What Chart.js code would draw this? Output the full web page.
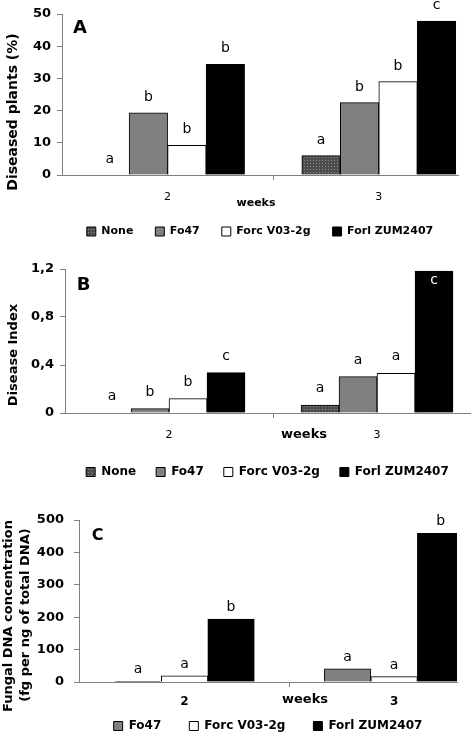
<!DOCTYPE html>
<html>
<head>
<meta charset="utf-8">
<script src="https://cdn.jsdelivr.net/npm/chart.js@4.4.1/dist/chart.umd.min.js"></script>
<style>
  html, body { margin: 0; padding: 0; background: #fff; overflow: hidden; }
  .panel { position: absolute; left: 0; width: 475px; }
</style>
</head>
<body>
<div class="panel" style="top:0"><canvas id="chartA" width="475" height="247"></canvas></div>
<div class="panel" style="top:240px"><canvas id="chartB" width="475" height="248"></canvas></div>
<div class="panel" style="top:480px"><canvas id="chartC" width="475" height="262"></canvas></div>
<script>
const weeks = [2, 3];
const weekLabels = ['2', '3'];
const seriesNames = ['None', 'Fo47', 'Forc V03-2g', 'Forl ZUM2407'];

// A: diseased plants (%)
const diseasedNone = [0, 6];
const diseasedFo47 = [19.3, 22.5];
const diseasedForc = [9.2, 29];
const diseasedForl = [34.4, 47.8];
const diseasedLetters = [['a', 'a'], ['b', 'b'], ['b', 'b'], ['b', 'c']];
const diseasedTicks = [0, 10, 20, 30, 40, 50];
const diseasedTickLabels = ['0', '10', '20', '30', '40', '50'];

// B: disease index
const indexNone = [0, 0.066];
const indexFo47 = [0.036, 0.303];
const indexForc = [0.12, 0.33];
const indexForl = [0.336, 1.183];
const indexLetters = [['a', 'a'], ['b', 'a'], ['b', 'a'], ['c', 'c']];
const indexTicks = [0, 0.4, 0.8, 1.2];
const indexTickLabels = ['0', '0,4', '0,8', '1,2'];

// C: fungal DNA (fg per ng of total DNA)
const dnaFo47 = [2, 41];
const dnaForc = [19, 16.5];
const dnaForl = [194, 459];
const dnaLetters = [['a', 'a'], ['a', 'a'], ['b', 'b']];
const dnaTicks = [0, 100, 200, 300, 400, 500];
const dnaTickLabels = ['0', '100', '200', '300', '400', '500'];

Chart.defaults.font.family = '"DejaVu Sans"';
Chart.defaults.color = '#000';

function dots() {
  const c = document.createElement('canvas');
  c.width = 3; c.height = 3;
  const g = c.getContext('2d');
  g.fillStyle = '#4d4d4d';
  g.fillRect(0, 0, 3, 3);
  g.fillStyle = '#8f8f8f';
  g.fillRect(1, 1, 1, 1);
  return g.createPattern(c, 'repeat');
}
const fills = { 'None': dots(), 'Fo47': '#808080', 'Forc V03-2g': '#ffffff', 'Forl ZUM2407': '#000000' };

function datasets(names, values, thickness) {
  return names.map((name, k) => ({
    label: name,
    data: weeks.map((w, i) => ({ x: w, y: values[k][i] })),
    backgroundColor: fills[name],
    borderColor: '#000',
    borderWidth: 1,
    barThickness: thickness
  }));
}

// x tick labels are clipped to the axis box; let them use the space down to the canvas edge
const labelRoom = {
  id: 'labelRoom',
  afterLayout(chart) { chart.scales.x.bottom = chart.height; }
};

function barLetters(rows, style) {
  return {
    id: 'barLetters',
    afterDatasetsDraw(chart) {
      const ctx = chart.ctx;
      ctx.save();
      ctx.font = '14px "DejaVu Sans"';
      ctx.textAlign = 'center';
      ctx.textBaseline = 'alphabetic';
      rows.forEach((row, di) => {
        const bars = chart.getDatasetMeta(di).data;
        row.forEach((txt, i) => {
          const inside = style.inside && style.inside[0] === di && style.inside[1] === i;
          ctx.fillStyle = inside ? '#fff' : '#000';
          ctx.fillText(txt, bars[i].x, inside ? bars[i].y + 13 : bars[i].y - style.gap);
        });
      });
      ctx.restore();
    }
  };
}

function notes(items) {
  return {
    id: 'notes',
    afterDraw(chart) {
      const ctx = chart.ctx;
      ctx.save();
      ctx.fillStyle = '#000';
      ctx.textAlign = 'center';
      ctx.textBaseline = 'middle';
      items.forEach(n => {
        ctx.save();
        ctx.font = n.font;
        ctx.translate(n.x, n.y);
        if (n.vertical) ctx.rotate(-Math.PI / 2);
        ctx.fillText(n.text, 0, 0);
        ctx.restore();
      });
      ctx.restore();
    }
  };
}

function options(cfg) {
  const mid = (weeks[0] + weeks[1]) / 2;
  return {
    responsive: false,
    animation: false,
    devicePixelRatio: 1,
    layout: { padding: { left: 0, top: cfg.top, right: cfg.right, bottom: 0 } },
    scales: {
      x: {
        type: 'linear',
        min: cfg.xMin,
        max: cfg.xMax,
        offset: false,
        afterBuildTicks: s => { s.ticks = [weeks[0], mid, weeks[1]].map(v => ({ value: v })); },
        ticks: {
          callback: v => (v === mid ? '' : weekLabels[weeks.indexOf(v)]),
          font: cfg.xFont,
          padding: cfg.xPad,
          autoSkip: false,
          maxRotation: 0
        },
        grid: {
          offset: false,
          drawOnChartArea: false,
          tickLength: 5,
          color: c => (c.tick && c.tick.value === mid ? '#808080' : 'rgba(0,0,0,0)')
        },
        border: { color: '#808080' },
        afterFit: s => { s.height = cfg.xHeight; }
      },
      y: {
        min: 0,
        max: cfg.yTicks[cfg.yTicks.length - 1],
        afterBuildTicks: s => { s.ticks = cfg.yTicks.map(v => ({ value: v })); },
        ticks: {
          callback: (v, i) => cfg.yLabels[i],
          font: { size: 13, weight: 'bold' },
          padding: cfg.yPad
        },
        grid: { drawOnChartArea: false, tickLength: 5, color: '#808080' },
        border: { color: '#808080' },
        afterFit: s => { s.width = cfg.yWidth; }
      }
    },
    plugins: {
      legend: {
        position: 'bottom',
        fullSize: false,
        labels: { boxWidth: 9, boxHeight: 9, padding: cfg.legendPad, font: cfg.legendFont, color: '#000' }
      },
      tooltip: { enabled: false }
    }
  };
}

new Chart(document.getElementById('chartA'), {
  type: 'bar',
  data: { datasets: datasets(seriesNames, [diseasedNone, diseasedFo47, diseasedForc, diseasedForl], 38.5) },
  options: options({
    top: 14, right: 17, xMin: 1.5, xMax: 3.375, yWidth: 62, xHeight: 29,
    xFont: { size: 11 }, xPad: 11, yPad: 6,
    yTicks: diseasedTicks, yLabels: diseasedTickLabels,
    legendPad: 22, legendFont: { size: 11, weight: 'bold' }
  }),
  plugins: [
    labelRoom,
    barLetters(diseasedLetters, { gap: 12 }),
    notes([
      { text: 'A', x: 80, y: 28.5, font: 'bold 18px "DejaVu Sans"' },
      { text: 'weeks', x: 256, y: 203.5, font: 'bold 11px "DejaVu Sans"' },
      { text: 'Diseased plants (%)', x: 13.5, y: 112, font: 'bold 14px "DejaVu Sans"', vertical: true }
    ])
  ]
});

new Chart(document.getElementById('chartB'), {
  type: 'bar',
  data: { datasets: datasets(seriesNames, [indexNone, indexFo47, indexForc, indexForl], 38) },
  options: options({
    top: 29, right: 5, xMin: 1.5, xMax: 3.447, yWidth: 65, xHeight: 33,
    xFont: { size: 11 }, xPad: 11, yPad: 6,
    yTicks: indexTicks, yLabels: indexTickLabels,
    legendPad: 20, legendFont: { size: 12, weight: 'bold' }
  }),
  plugins: [
    labelRoom,
    barLetters(indexLetters, { gap: 13, inside: [3, 1] }),
    notes([
      { text: 'B', x: 83.5, y: 45.5, font: 'bold 18px "DejaVu Sans"' },
      { text: 'weeks', x: 304, y: 195, font: 'bold 13px "DejaVu Sans"' },
      { text: 'Disease Index', x: 13.5, y: 115, font: 'bold 13px "DejaVu Sans"', vertical: true }
    ])
  ]
});

new Chart(document.getElementById('chartC'), {
  type: 'bar',
  data: { datasets: datasets(seriesNames.slice(1), [dnaFo47, dnaForc, dnaForl], 46.5) },
  options: options({
    top: 40, right: 18, xMin: 1.4964, xMax: 3.30, yWidth: 79, xHeight: 10,
    xFont: { size: 12, weight: 'bold' }, xPad: 8, yPad: 10,
    yTicks: dnaTicks, yLabels: dnaTickLabels,
    legendPad: 28, legendFont: { size: 12, weight: 'bold' }
  }),
  plugins: [
    labelRoom,
    barLetters(dnaLetters, { gap: 8 }),
    notes([
      { text: 'C', x: 97.5, y: 56, font: 'bold 16px "DejaVu Sans"' },
      { text: 'weeks', x: 305, y: 220, font: 'bold 13px "DejaVu Sans"' },
      { text: 'Fungal DNA concentration', x: 9, y: 136, font: 'bold 13px "DejaVu Sans"', vertical: true },
      { text: '(fg per ng of total DNA)', x: 26, y: 135, font: 'bold 13px "DejaVu Sans"', vertical: true }
    ])
  ]
});
</script>
</body>
</html>
